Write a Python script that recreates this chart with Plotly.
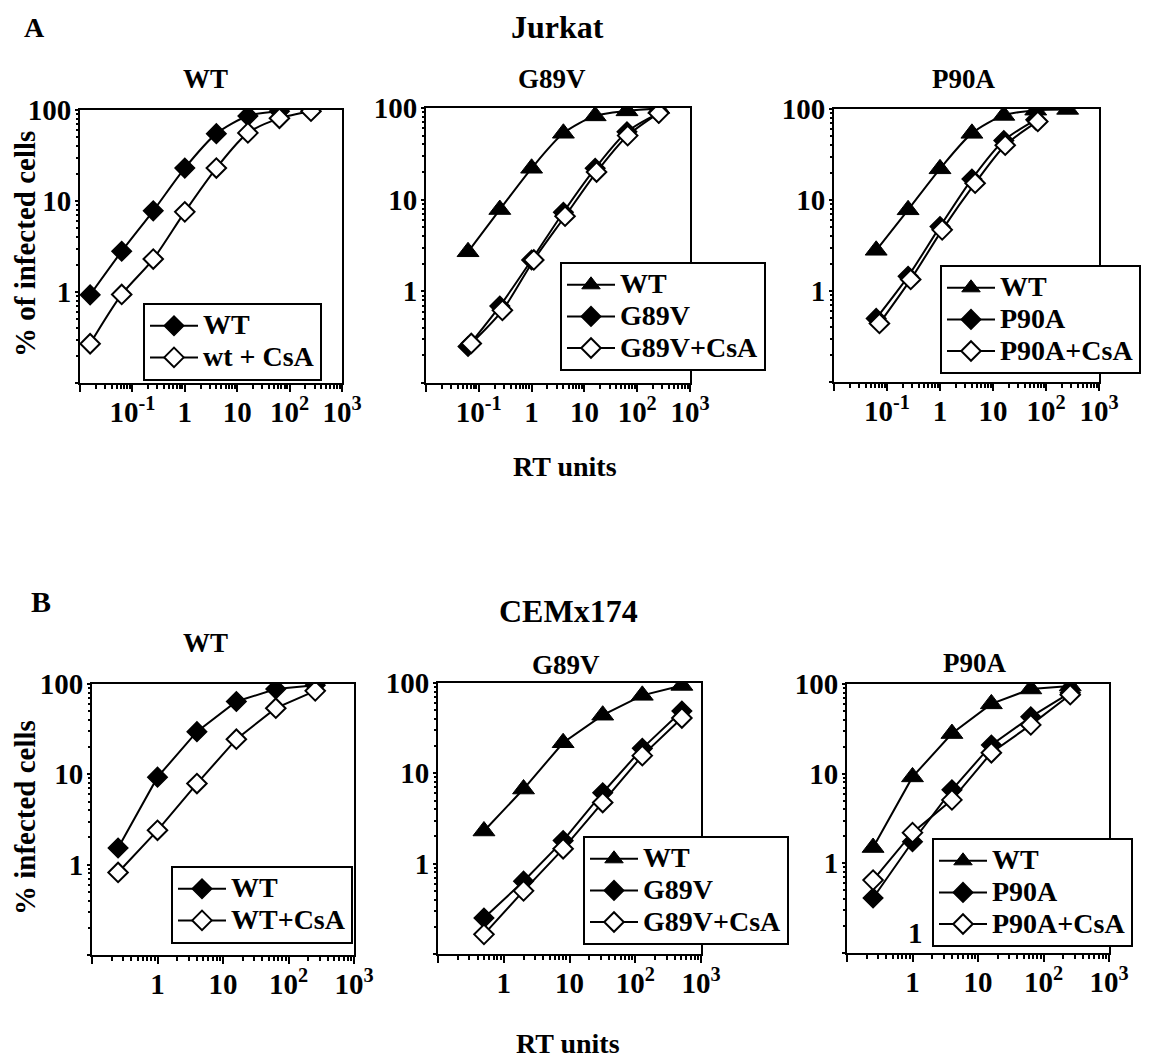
import plotly.graph_objects as go

W, H = 1150, 1059
FONT = "Liberation Serif"

# ---------- data: RT units (x) vs % infected cells (y) ----------
# Jurkat, WT virus
jk_wt_x = [0.0156, 0.0625, 0.25, 1, 4, 16, 64]
jk_wt_y = [0.93, 2.8, 7.8, 23, 55, 86, 97]
jk_wtcsa_x = [0.0156, 0.0625, 0.25, 1, 4, 16, 64, 256]
jk_wtcsa_y = [0.27, 0.94, 2.3, 7.6, 23, 56, 81, 97]

# Jurkat, G89V panel
jk_g_wt_x = [0.0625, 0.25, 1, 4, 16, 64, 256]
jk_g_wt_y = [2.7, 7.8, 22, 53, 82, 93, 99]
jk_g89v_x = [0.0625, 0.25, 1, 4, 16, 64, 256]
jk_g89v_y = [0.25, 0.69, 2.2, 7.3, 22, 55, 88]
jk_g89vcsa_x = [0.072, 0.28, 1.1, 4.3, 17, 66, 256]
jk_g89vcsa_y = [0.27, 0.62, 2.2, 6.6, 20, 50, 88]

# Jurkat, P90A panel
jk_p_wt_x = [0.0625, 0.25, 1, 4, 16, 64, 256]
jk_p_wt_y = [2.8, 7.8, 22, 54, 85, 97, 99]
jk_p90a_x = [0.0625, 0.25, 1, 4, 16, 64]
jk_p90a_y = [0.5, 1.45, 5.1, 17, 45, 76]
jk_p90acsa_x = [0.072, 0.28, 1.1, 4.6, 17, 70]
jk_p90acsa_y = [0.44, 1.34, 4.7, 15.3, 40, 73]

# CEMx174, WT virus
cem_wt_x = [0.25, 1, 4, 16, 64, 256]
cem_wt_y = [1.53, 9.3, 29.7, 64, 88, 97]
cem_wtcsa_x = [0.25, 1, 4, 16, 64, 256]
cem_wtcsa_y = [0.82, 2.4, 7.9, 24.5, 54, 84]

# CEMx174, G89V panel
cem_g_x = [0.5, 2, 8, 32, 128, 512]
cem_g_wt_y = [2.3, 6.7, 21.8, 44, 73, 94]
cem_g89v_y = [0.25, 0.64, 1.8, 6.1, 18.9, 49]
cem_g89vcsa_y = [0.165, 0.5, 1.46, 4.75, 15.7, 41]

# CEMx174, P90A panel
cem_p_x = [0.25, 1, 4, 16, 64, 256]
cem_p_wt_y = [1.5, 9.2, 28, 60, 88, 95]
cem_p90a_y = [0.41, 1.74, 6.6, 20.9, 43, 80]
cem_p90acsa_y = [0.65, 2.2, 5.1, 17.1, 35, 76]

# ---------- tick labels ----------
xtick_vals_a = [0.01, 0.1, 1, 10, 100, 1000]
xtick_text_a = ["", "10<sup>-1</sup>", "1", "10", "10<sup>2</sup>", "10<sup>3</sup>"]
xtick_vals_b = [0.1, 1, 10, 100, 1000]
xtick_text_b = ["", "1", "10", "10<sup>2</sup>", "10<sup>3</sup>"]
ytick_vals = [0.1, 1, 10, 100]
ytick_text = ["", "1", "10", "100"]


def px_x(p):
    return p / W


def px_y(p):
    return 1 - p / H


def minor_vals(lo, hi):
    vals = []
    for d in range(lo, hi):
        for k in range(2, 10):
            vals.append(k * 10 ** d)
    return vals


def legend_name(text):
    # larger glyphs than the legend's base size, which sets the row pitch
    return '<span style="font-size:28px">%s</span>' % text


FILLED_D = dict(symbol="diamond", size=15, color="black", line=dict(color="black", width=1.5))
OPEN_D = dict(symbol="diamond", size=15, color="white", line=dict(color="black", width=2))
TRI = dict(symbol="triangle-up", size=19, color="black", line=dict(color="black", width=1))

panels = [
    dict(xd=(80, 342), yd=(110, 383), xr=(-2, 3), xt=(xtick_vals_a, xtick_text_a), spline=True,
         legend=(143, 303), title=("WT", 205, 79),
         series=[("WT", jk_wt_x, jk_wt_y, FILLED_D), ("wt + CsA", jk_wtcsa_x, jk_wtcsa_y, OPEN_D)]),
    dict(xd=(426, 690), yd=(108, 383), xr=(-2, 3), xt=(xtick_vals_a, xtick_text_a), spline=True,
         legend=(560, 262), title=("G89V", 552, 79),
         series=[("WT", jk_g_wt_x, jk_g_wt_y, TRI), ("G89V", jk_g89v_x, jk_g89v_y, FILLED_D),
                 ("G89V+CsA", jk_g89vcsa_x, jk_g89vcsa_y, OPEN_D)]),
    dict(xd=(834, 1099), yd=(109, 382), xr=(-2, 3), xt=(xtick_vals_a, xtick_text_a), spline=True,
         legend=(940, 265), title=("P90A", 963, 79),
         series=[("WT", jk_p_wt_x, jk_p_wt_y, TRI), ("P90A", jk_p90a_x, jk_p90a_y, FILLED_D),
                 ("P90A+CsA", jk_p90acsa_x, jk_p90acsa_y, OPEN_D)]),
    dict(xd=(92, 354), yd=(684, 955), xr=(-1, 3), xt=(xtick_vals_b, xtick_text_b), spline=False,
         legend=(171, 866), title=("WT", 205, 643),
         series=[("WT", cem_wt_x, cem_wt_y, FILLED_D), ("WT+CsA", cem_wtcsa_x, cem_wtcsa_y, OPEN_D)]),
    dict(xd=(438, 701), yd=(683, 954), xr=(-1, 3), xt=(xtick_vals_b, xtick_text_b), spline=False,
         legend=(583, 836), title=("G89V", 566, 665),
         series=[("WT", cem_g_x, cem_g_wt_y, TRI), ("G89V", cem_g_x, cem_g89v_y, FILLED_D),
                 ("G89V+CsA", cem_g_x, cem_g89vcsa_y, OPEN_D)]),
    dict(xd=(847, 1109), yd=(684, 953), xr=(-1, 3), xt=(xtick_vals_b, xtick_text_b), spline=False,
         legend=(932, 838), title=("P90A", 974, 663),
         series=[("WT", cem_p_x, cem_p_wt_y, TRI), ("P90A", cem_p_x, cem_p90a_y, FILLED_D),
                 ("P90A+CsA", cem_p_x, cem_p90acsa_y, OPEN_D)]),
]

fig = go.Figure()
layout = dict(
    width=W, height=H, margin=dict(l=0, r=0, t=0, b=0, autoexpand=False),
    paper_bgcolor="white", plot_bgcolor="white",
    font=dict(family=FONT, size=26, color="black", weight="bold"),
    annotations=[], showlegend=True,
)

tick_font = dict(family=FONT, size=29, color="black", weight="bold")
n_panels = len(panels)

for i, p in enumerate(panels, start=1):
    sfx = "" if i == 1 else str(i)
    leg = "legend" + sfx
    for name, xs, ys, mk in p["series"]:
        fig.add_trace(go.Scatter(
            x=xs, y=ys, name=legend_name(name), mode="lines+markers",
            line=dict(color="black", width=2, shape="spline" if p["spline"] else "linear",
                      smoothing=0.8 if p["spline"] else None),
            marker=mk, xaxis="x" + sfx, yaxis="y" + sfx, legend=leg,
        ))
    xdom = [px_x(p["xd"][0]), px_x(p["xd"][1])]
    layout["xaxis" + sfx] = dict(
        domain=xdom, anchor="y" + sfx, type="log",
        range=list(p["xr"]), showline=True, mirror=True, linecolor="black", linewidth=2,
        ticks="outside", ticklen=7, tickwidth=2, tickcolor="black",
        tickmode="array", tickvals=p["xt"][0], ticktext=p["xt"][1], tickfont=tick_font,
        ticklabelstandoff=-5,
        minor=dict(ticks="outside", ticklen=4, tickwidth=1.5, tickcolor="black",
                   tickmode="array", tickvals=minor_vals(p["xr"][0], p["xr"][1]), showgrid=False),
        showgrid=False, zeroline=False,
    )
    # companion axis: the inner half of the major x ticks, so they cross the axis line
    layout["xaxis" + str(i + n_panels)] = dict(
        domain=xdom, anchor="y" + sfx, overlaying="x" + sfx, side="bottom", type="log",
        range=list(p["xr"]), showline=False, ticks="inside", ticklen=5, tickwidth=2,
        tickcolor="black", tickmode="array", tickvals=p["xt"][0], showticklabels=False,
        showgrid=False, zeroline=False,
    )
    layout["yaxis" + sfx] = dict(
        domain=[px_y(p["yd"][1]), px_y(p["yd"][0])], anchor="x" + sfx, type="log",
        range=[-1, 2], showline=True, mirror=True, linecolor="black", linewidth=2,
        ticks="outside", ticklen=3, tickwidth=2, tickcolor="black",
        tickmode="array", tickvals=ytick_vals, ticktext=ytick_text, tickfont=tick_font,
        ticklabelstandoff=-2,
        minor=dict(ticks="outside", ticklen=2, tickwidth=1.5, tickcolor="black",
                   tickmode="array", tickvals=minor_vals(-1, 2), showgrid=False),
        showgrid=False, zeroline=False,
    )
    layout[leg] = dict(
        x=px_x(p["legend"][0]), y=px_y(p["legend"][1]), xanchor="left", yanchor="top",
        bgcolor="white", bordercolor="black", borderwidth=2, itemwidth=48,
        font=dict(family=FONT, size=22, color="black", weight="bold"),
        tracegroupgap=0, traceorder="normal",
    )
    t, tx, ty = p["title"]
    layout["annotations"].append(dict(
        text=t, x=px_x(tx), y=px_y(ty), xref="paper", yref="paper", showarrow=False,
        xanchor="center", yanchor="middle", font=dict(family=FONT, size=27, weight="bold")))


def label(text, x, y, size, angle=0):
    layout["annotations"].append(dict(
        text=text, x=px_x(x), y=px_y(y), xref="paper", yref="paper", showarrow=False,
        xanchor="center", yanchor="middle", textangle=angle,
        font=dict(family=FONT, size=size, color="black", weight="bold")))


label("A", 34, 28, 28)
label("Jurkat", 557, 27, 32)
label("RT units", 565, 466, 28)
label("% of infected cells", 25, 244, 29, -90)
label("B", 41, 601, 30)
label("CEMx174", 568, 611, 32)
label("RT units", 568, 1043, 28)
label("% infected cells", 25, 818, 29, -90)
label("1", 915, 933, 29)

fig.update_layout(**layout)
fig.write_html("out.html")
